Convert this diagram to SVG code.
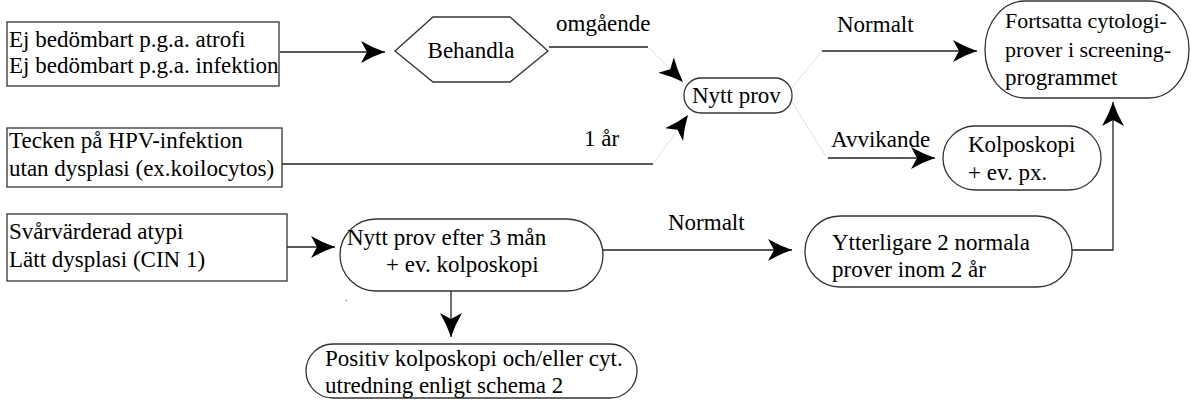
<svg xmlns="http://www.w3.org/2000/svg" width="1191" height="401" viewBox="0 0 1191 401">
<style>
.t{font-family:"Liberation Serif","Times New Roman",serif;font-size:23px;fill:#000}
.s{font-size:22px}
.box{fill:#fff;stroke:#333;stroke-width:1.3}
.ln{fill:none;stroke:#222;stroke-width:1.3}
.fl{fill:none;stroke:#e2e2e2;stroke-width:1}
</style>
<defs>
<marker id="ah" markerUnits="userSpaceOnUse" markerWidth="26" markerHeight="24" viewBox="0 -12 26 24" refX="24" refY="0" orient="auto">
<path d="M0,-11 Q12,-4 24,0 Q12,4 0,11 L6,0 Z" fill="#000"/>
</marker>
</defs>
<rect width="1191" height="401" fill="#fff"/>
<g id="connectors">
<path class="ln" d="M280,52 H385" marker-end="url(#ah)"/>
<path class="ln" d="M549,47 H648"/>
<path class="fl" d="M648,47 L683,82" marker-end="url(#ah)"/>
<path class="ln" d="M282,164 H653"/>
<path class="fl" d="M653,164 L688,115" marker-end="url(#ah)"/>
<path class="fl" d="M792,88 L822,51"/>
<path class="ln" d="M822,51 H977" marker-end="url(#ah)"/>
<path class="fl" d="M792,102 L827,158"/>
<path class="ln" d="M828,158 H935" marker-end="url(#ah)"/>
<path class="ln" d="M287,247 H335" marker-end="url(#ah)"/>
<path class="ln" d="M451,291 V337" marker-end="url(#ah)"/>
<path class="ln" d="M603,250 H792" marker-end="url(#ah)"/>
<path class="ln" d="M1072,250 H1113 V102" marker-end="url(#ah)"/>
<text class="t" x="556" y="31">omgående</text>
<text class="t" x="584" y="146">1 år</text>
<text class="t" x="837" y="32">Normalt</text>
<text class="t" x="831" y="147">Avvikande</text>
<text class="t" x="668" y="230">Normalt</text>
</g>
<g id="box1">
<rect class="box" x="7" y="22" width="272" height="64"/>
<text class="t" x="9" y="47">Ej bedömbart p.g.a. atrofi</text>
<text class="t" x="9" y="73">Ej bedömbart p.g.a. infektion</text>
</g>
<g id="box2">
<rect class="box" x="7" y="128" width="275" height="59"/>
<text class="t" x="9" y="148">Tecken på HPV-infektion</text>
<text class="t" x="9" y="176">utan dysplasi (ex.koilocytos)</text>
</g>
<g id="box3">
<rect class="box" x="7" y="214" width="280" height="67"/>
<text class="t" x="9" y="239">Svårvärderad atypi</text>
<text class="t" x="9" y="267">Lätt dysplasi (CIN 1)</text>
</g>
<g id="behandla">
<polygon class="box" points="395,51 433,17 510,17 548,51 510,82 433,82"/>
<text class="t" x="471" y="58" text-anchor="middle">Behandla</text>
</g>
<g id="nyttprov">
<rect class="box" x="684" y="78" width="108" height="35" rx="17" ry="17"/>
<text class="t" x="692" y="103">Nytt prov</text>
</g>
<g id="fortsatta">
<rect class="box" x="985" y="1" width="204" height="97" rx="40" ry="48"/>
<text class="t s" x="1005" y="28">Fortsatta cytologi-</text>
<text class="t s" x="1005" y="57">prover i screening-</text>
<text class="t" x="1005" y="85">programmet</text>
</g>
<g id="kolposkopi">
<rect class="box" x="943" y="126" width="158" height="64" rx="32" ry="32"/>
<text class="t" x="968" y="152">Kolposkopi</text>
<text class="t" x="968" y="180">+ ev. px.</text>
</g>
<g id="nyttprov3">
<rect class="box" x="340" y="219" width="263" height="72" rx="36" ry="36"/>
<text class="t" x="347" y="245">Nytt prov efter 3 mån</text>
<text class="t" x="386" y="272">+ ev. kolposkopi</text>
</g>
<g id="ytterligare">
<rect class="box" x="805" y="216" width="267" height="71" rx="35" ry="35"/>
<text class="t" x="832" y="250">Ytterligare 2 normala</text>
<text class="t" x="832" y="277">prover inom 2 år</text>
</g>
<g id="positiv">
<rect class="box" x="306" y="344" width="331" height="54" rx="27" ry="27"/>
<text class="t" x="325" y="366">Positiv kolposkopi och/eller cyt.</text>
<text class="t" x="325" y="393">utredning enligt schema 2</text>
</g>
<circle cx="346.5" cy="300.5" r="0.8" fill="#777"/>
</svg>
